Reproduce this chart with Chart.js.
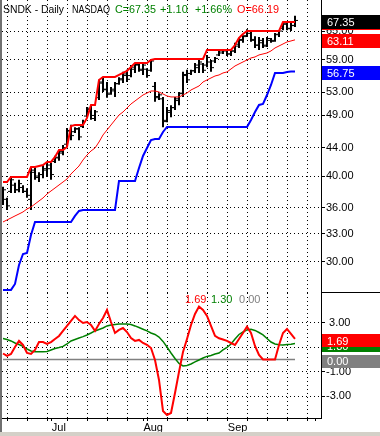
<!DOCTYPE html>
<html>
<head>
<meta charset="utf-8">
<script src="https://cdn.jsdelivr.net/npm/chart.js@4.4.0/dist/chart.umd.min.js"></script>
<style>
  html, body { margin: 0; padding: 0; background: #fff; }
  #frame { position: relative; width: 380px; height: 436px; overflow: hidden; background: #fff; }
  #priceCanvas { position: absolute; left: 0; top: 0; }
  #oscCanvas { position: absolute; left: 0; top: 293px; }
  #edge { position: absolute; left: 0; top: 0; width: 2px; height: 432px; background: #707070; }
  #foot { position: absolute; left: 0; top: 432px; width: 380px; height: 4px; background: #d4d0c8; }
</style>
</head>
<body>
<div id="frame">
  <canvas id="priceCanvas" width="380" height="293"></canvas>
  <canvas id="oscCanvas" width="380" height="139"></canvas>
  <div id="edge"></div>
  <div id="foot"></div>
</div>
<script>
// daily bars, mid June -> late September
var opens = [37.0, 37.0, 38.0, 38.8, 38.2, 38.5, 38.0, 37.0, 40.5, 39.8,
  40.2, 40.8, 41.0, 42.0, 42.5, 43.2, 44.5, 46.5, 46.4, 46.8,
  47.2, 48.9, 50.2, 48.5, 52.0, 54.6, 53.5, 52.8, 53.2, 54.5,
  55.2, 56.0, 56.0, 57.2, 58.0, 57.0, 57.2, 57.0, 54.0, 52.2,
  51.8, 48.2, 49.5, 50.3, 51.5, 52.8, 56.0, 56.4, 56.9, 57.5,
  58.2, 58.0, 58.6, 58.8, 60.0, 60.4, 60.8, 60.2, 60.8, 61.8,
  63.0, 64.0, 64.5, 63.0, 62.0, 62.5, 62.0, 63.0, 63.0, 64.2,
  65.6, 66.5, 65.5, 66.19];
var highs = [38.6, 37.2, 39.9, 39.1, 39.5, 38.8, 38.4, 41.2, 41.2, 40.5,
  41.5, 41.9, 41.8, 42.8, 43.6, 44.4, 47.0, 47.5, 47.1, 47.1,
  48.3, 50.4, 50.7, 49.9, 55.2, 55.7, 54.8, 53.9, 54.8, 55.7,
  56.7, 57.1, 58.0, 58.4, 58.4, 58.4, 57.4, 59.2, 54.8, 52.8,
  52.1, 50.4, 50.7, 52.1, 53.0, 56.7, 57.1, 57.1, 58.4, 59.0,
  58.4, 60.0, 59.0, 59.6, 61.0, 61.2, 61.0, 61.0, 62.5, 63.5,
  64.1, 65.4, 65.0, 63.9, 63.7, 63.5, 63.7, 63.5, 64.6, 65.2,
  67.0, 66.8, 66.8, 68.4];
var lows = [36.3, 35.7, 37.8, 37.8, 37.9, 37.8, 37.2, 35.7, 39.5, 39.2,
  39.7, 39.9, 39.5, 41.8, 42.1, 42.9, 44.1, 45.1, 46.2, 45.1,
  47.0, 48.7, 48.3, 48.1, 51.6, 53.0, 52.0, 52.5, 52.1, 54.3,
  54.6, 54.8, 55.7, 56.5, 56.7, 56.1, 55.6, 56.7, 51.3, 51.6,
  47.1, 47.9, 48.7, 49.9, 50.7, 52.1, 54.6, 56.1, 56.5, 56.5,
  56.5, 57.6, 56.7, 58.4, 59.8, 60.2, 59.8, 59.8, 60.4, 61.4,
  62.5, 63.7, 62.7, 61.4, 61.0, 61.4, 61.6, 62.5, 62.7, 63.7,
  65.2, 65.2, 65.0, 65.9];
var closes = [38.2, 36.2, 39.5, 38.2, 39.0, 38.0, 37.5, 40.8, 40.0, 40.2,
  41.0, 41.5, 40.2, 42.6, 43.4, 44.0, 46.6, 45.8, 46.9, 45.6,
  48.0, 50.0, 49.0, 49.6, 54.8, 53.4, 52.6, 53.5, 54.5, 55.4,
  56.3, 55.3, 57.6, 58.1, 57.2, 58.0, 56.0, 58.8, 52.0, 52.5,
  48.0, 49.8, 50.3, 51.8, 52.7, 56.2, 55.2, 56.9, 58.0, 58.6,
  57.0, 59.5, 57.5, 59.3, 60.8, 61.0, 60.2, 60.8, 62.2, 63.2,
  63.8, 65.0, 63.2, 62.0, 63.0, 61.8, 63.4, 62.8, 64.3, 65.0,
  66.6, 65.6, 66.25, 67.35];

// overlays on the price panel
var maxHigh = [39.21, 39.21, 39.88, 39.88, 39.88, 39.88, 39.88, 41.23, 41.23, 41.37,
  41.51, 41.93, 41.93, 42.64, 43.65, 43.65, 44.09, 47.30, 47.46, 47.46,
  47.46, 48.59, 50.75, 50.75, 55.18, 55.74, 55.74, 55.74, 55.74, 56.11,
  56.49, 56.86, 57.63, 58.41, 58.41, 58.41, 58.41, 59.00, 59.20, 59.20,
  59.20, 59.20, 59.20, 59.20, 59.20, 59.20, 59.20, 59.20, 59.20, 59.20,
  59.20, 61.01, 61.01, 61.01, 61.01, 61.01, 61.01, 61.01, 62.03, 63.51,
  64.36, 65.01, 65.01, 65.01, 65.01, 65.01, 65.01, 65.01, 65.01, 65.01,
  67.00, 67.00, 67.00, 67.00];
var movAvg = [34.30, 34.53, 34.76, 35.00, 35.23, 35.47, 35.82, 36.06, 36.43, 36.80,
  37.17, 37.67, 38.05, 38.43, 38.82, 39.21, 39.61, 40.28, 40.82, 41.37,
  42.21, 42.92, 43.50, 43.94, 44.83, 45.90, 46.67, 47.46, 48.26, 49.07,
  49.57, 50.24, 50.92, 51.43, 51.95, 52.47, 52.82, 53.18, 53.18, 53.00,
  52.65, 52.30, 52.13, 52.13, 52.13, 52.47, 52.82, 53.36, 53.72, 54.08,
  54.81, 55.18, 55.55, 55.92, 56.11, 56.49, 56.68, 57.25, 57.83, 58.22,
  58.61, 59.00, 59.40, 59.60, 60.00, 60.20, 60.40, 60.81, 61.42, 61.83,
  62.25, 62.67, 62.88, 63.11];
var stopLine = [27.32, 27.32, 27.32, 27.87, 29.70, 30.81, 30.92, 32.84, 34.30, 34.30,
  34.30, 34.30, 34.30, 34.30, 34.30, 34.30, 34.30, 34.30, 35.00, 35.59,
  35.71, 35.71, 35.71, 35.71, 35.71, 35.71, 35.71, 35.71, 35.71, 39.35,
  39.35, 39.35, 39.35, 39.35, 41.09, 42.78, 43.94, 45.13, 45.29, 45.29,
  46.36, 47.14, 47.14, 47.14, 47.14, 47.14, 47.14, 47.14, 47.14, 47.14,
  47.14, 47.14, 47.14, 47.14, 47.14, 47.14, 47.14, 47.14, 47.14, 47.14,
  47.14, 47.14, 48.26, 49.57, 50.75, 50.92, 52.47, 54.26, 56.49, 56.49,
  56.49, 56.68, 56.75, 56.75];

// lower panel
var oscFast = [0.49, 0.29, 0.45, 1.02, 1.52, 1.19, 0.53, 0.45, 0.78, 1.43,
  1.43, 1.27, 1.43, 1.68, 1.93, 2.34, 2.75, 3.16, 3.57, 3.23,
  2.99, 3.07, 2.83, 2.34, 2.91, 3.40, 4.06, 3.07, 2.17, 2.42,
  2.58, 2.25, 1.76, 1.52, 1.60, 1.35, 1.19, 0.94, -0.04, -1.68,
  -4.22, -4.55, -4.39, -2.75, -1.02, 0.61, 1.68, 2.83, 3.73, 4.34,
  4.06, 3.57, 2.75, 1.93, 1.74, 1.64, 1.52, 1.35, 1.19, 1.68,
  2.17, 2.69, 2.17, 1.11, 0.37, 0.00, 0.00, 0.00, 0.00, 1.19,
  2.17, 2.50, 2.09, 1.69];
var oscSlow = [1.72, 1.64, 1.52, 1.35, 1.23, 1.07, 0.86, 0.70, 0.64, 0.64,
  0.64, 0.66, 0.78, 0.90, 0.98, 1.07, 1.27, 1.52, 1.64, 1.76,
  1.87, 2.01, 2.17, 2.34, 2.46, 2.58, 2.75, 2.83, 2.87, 2.91,
  2.91, 2.91, 2.87, 2.75, 2.62, 2.48, 2.34, 2.17, 2.05, 1.84,
  1.48, 1.02, 0.53, 0.08, -0.33, -0.53, -0.49, -0.37, -0.20, -0.04,
  0.12, 0.25, 0.33, 0.45, 0.53, 0.78, 0.98, 1.27, 1.68, 2.05,
  2.25, 2.42, 2.48, 2.38, 2.21, 2.01, 1.72, 1.43, 1.27, 1.20,
  1.19, 1.23, 1.25, 1.30];
var oscZero = [0, 0, 0, 0, 0, 0, 0, 0, 0, 0,
  0, 0, 0, 0, 0, 0, 0, 0, 0, 0,
  0, 0, 0, 0, 0, 0, 0, 0, 0, 0,
  0, 0, 0, 0, 0, 0, 0, 0, 0, 0,
  0, 0, 0, 0, 0, 0, 0, 0, 0, 0,
  0, 0, 0, 0, 0, 0, 0, 0, 0, 0,
  0, 0, 0, 0, 0, 0, 0, 0, 0, 0,
  0, 0, 0, 0];

// axis ticks (x in bar numbers)
var weekTicks = [1.2, 6.2, 11.2, 16.2, 21.2, 26.2, 31.2, 36.2, 41.2, 46.2, 51.2, 56.2, 61.2, 66.2, 71.2, 76.2];
var monthTicks = [12.2, 35.1, 56.2, 78];
var monthLabels = ['Jul', 'Aug', 'Sep', ''];
var priceTicks = [30, 33, 36, 40, 44, 49, 53, 59, 65];
var oscTicks = [3, 1, -1, -3];

var FONT = "'Liberation Sans', Arial, sans-serif";
Chart.defaults.font.family = FONT;
Chart.defaults.font.size = 11;
Chart.defaults.color = '#000';

function pts(arr, shift) {
    return arr.map(function (v, i) { return {x: i + (shift || 0), y: v}; });
}
function lineSet(arr, color, width, order) {
    return {type: 'line', data: pts(arr), borderColor: color, borderWidth: width,
        pointRadius: 0, tension: 0, fill: false, order: order};
}
function tickSet(arr, shift) {
    return {type: 'line', showLine: false, data: pts(arr, shift), pointStyle: 'line',
        pointRadius: 1, pointBorderWidth: 1, pointBorderColor: '#000', order: 3};
}
function noPad(s) { s.paddingTop = 0; s.paddingBottom = 0; s.paddingLeft = 0; s.paddingRight = 0; }

function drawBox(ctx, chart, value, color, py, h) {
    var area = chart.chartArea;
    ctx.fillStyle = color;
    ctx.fillRect(area.right + 1, Math.round(py - h / 2), chart.width - area.right - 1, h);
    ctx.fillStyle = '#fff';
    ctx.fillText(value.toFixed(2), area.right + 6, Math.round(py) + 0.5);
}

var last = closes.length - 1;

var priceDecor = {
    id: 'priceDecor',
    afterDraw: function (chart) {
        var ctx = chart.ctx, y = chart.scales.y, area = chart.chartArea;
        ctx.save();
        ctx.font = '11px ' + FONT;
        ctx.textBaseline = 'middle';
        var chg = closes[last] - closes[last - 1];
        var sign = chg >= 0 ? '+' : '';
        // text, colour, left, max width
        var head = [
            ['SNDK - Daily', '#000', 3, 61],
            ['NASDAQ', '#000', 72, 38],
            ['C=' + closes[last].toFixed(2), '#008000', 115, 41],
            [sign + chg.toFixed(2), '#008000', 160, 28],
            [sign + (chg / closes[last - 1] * 100).toFixed(2) + '%', '#008000', 195, 37],
            ['O=' + opens[last].toFixed(2), '#ff0000', 237, 42]
        ];
        head.forEach(function (h) {
            ctx.fillStyle = h[1];
            ctx.fillText(h[0], h[2], 10, h[3]);
        });
        var boxes = [[maxHigh[last], '#ff0000'], [closes[last], '#000000'],
            [movAvg[last], '#ff0000'], [stopLine[last], '#0000ff']];
        boxes.forEach(function (b) {
            drawBox(ctx, chart, b[0], b[1], y.getPixelForValue(b[0]) + 1.5, 14);
        });
        ctx.strokeStyle = '#000';
        ctx.lineWidth = 1;
        ctx.beginPath();
        ctx.moveTo(area.right, chart.height - 0.5);
        ctx.lineTo(chart.width, chart.height - 0.5);
        ctx.stroke();
        ctx.restore();
    }
};

var oscDecor = {
    id: 'oscDecor',
    afterDraw: function (chart) {
        var ctx = chart.ctx, y = chart.scales.y;
        ctx.save();
        ctx.font = '11px ' + FONT;
        ctx.textBaseline = 'middle';
        var legend = [[oscFast[last], '#ff0000', 185], [oscSlow[last], '#008000', 211], [oscZero[last], '#808080', 239]];
        legend.forEach(function (l) {
            ctx.fillStyle = l[1];
            ctx.fillText(l[0].toFixed(2), l[2], 7);
        });
        var boxes = [[oscSlow[last], '#008000'], [oscFast[last], '#ff0000'], [oscZero[last], '#808080']];
        boxes.forEach(function (b) {
            drawBox(ctx, chart, b[0], b[1], y.getPixelForValue(b[0]) + 2, 13);
        });
        ctx.restore();
    }
};

var dotted = [1, 3];

new Chart(document.getElementById('priceCanvas'), {
    type: 'line',
    data: {
        datasets: [
            lineSet(maxHigh, '#ff0000', 2, 1),
            lineSet(movAvg, '#ff0000', 1, 1),
            lineSet(stopLine, '#0000ff', 2, 1),
            {type: 'bar', data: highs.map(function (h, i) { return {x: i, y: [lows[i], h]}; }),
                backgroundColor: '#000', barThickness: 2, inflateAmount: 0, order: 3},
            tickSet(opens, -0.5),
            tickSet(closes, 0.5)
        ]
    },
    options: {
        responsive: false,
        animation: false,
        events: [],
        layout: {padding: {left: 2, right: 0, top: 0, bottom: 0}, autoPadding: false},
        plugins: {legend: {display: false}, tooltip: {enabled: false}},
        scales: {
            x: {
                type: 'linear', min: -0.25, max: 79.5, offset: false,
                afterBuildTicks: function (s) { s.ticks = weekTicks.map(function (v) { return {value: v}; }); },
                afterFit: function (s) { s.height = 0; noPad(s); },
                ticks: {display: false, autoSkip: false},
                grid: {color: '#000', lineWidth: 1, drawTicks: false, offset: false},
                border: {display: false, dash: dotted}
            },
            y: {
                type: 'logarithmic', position: 'right', min: 27.04, max: 72.12,
                afterBuildTicks: function (s) { s.ticks = priceTicks.map(function (v) { return {value: v}; }); },
                afterFit: function (s) { s.width = 59; noPad(s); },
                ticks: {autoSkip: false, padding: 1, color: '#000',
                    callback: function (v) { return Number(v).toFixed(2); }},
                grid: {color: '#000', lineWidth: 1, tickLength: 4, tickColor: '#000', tickBorderDash: []},
                border: {display: true, color: '#000', width: 1, dash: dotted}
            }
        }
    },
    plugins: [priceDecor]
});

var xTicks = weekTicks.concat(monthTicks.filter(function (v) { return weekTicks.indexOf(v) < 0; }))
    .sort(function (a, b) { return a - b; });

new Chart(document.getElementById('oscCanvas'), {
    type: 'line',
    data: {
        datasets: [
            lineSet(oscFast, '#ff0000', 2, 1),
            lineSet(oscSlow, '#008000', 1.5, 2),
            lineSet(oscZero, '#808080', 1.5, 3)
        ]
    },
    options: {
        responsive: false,
        animation: false,
        events: [],
        layout: {padding: {left: 2, right: 0, top: 0, bottom: 0}, autoPadding: false},
        plugins: {legend: {display: false}, tooltip: {enabled: false}},
        scales: {
            x: {
                type: 'linear', min: -0.25, max: 79.5, offset: false,
                afterBuildTicks: function (s) { s.ticks = xTicks.map(function (v) { return {value: v}; }); },
                afterFit: function (s) { s.height = 14; noPad(s); },
                ticks: {autoSkip: false, maxRotation: 0, minRotation: 0, align: 'start', padding: 0, color: '#000',
                    callback: function (v) {
                        var k = monthTicks.indexOf(v);
                        return k >= 0 ? monthLabels[k] : '';
                    }},
                grid: {
                    color: function (c) { return weekTicks.indexOf(c.tick.value) >= 0 ? '#000' : 'rgba(0,0,0,0)'; },
                    lineWidth: 1, tickLength: 3, tickColor: '#000', tickBorderDash: [], offset: false
                },
                border: {display: true, color: '#000', width: 1, dash: dotted}
            },
            y: {
                type: 'linear', position: 'right', min: -4.8, max: 5.45,
                afterBuildTicks: function (s) { s.ticks = oscTicks.map(function (v) { return {value: v}; }); },
                afterFit: function (s) { s.width = 59; noPad(s); },
                ticks: {autoSkip: false, padding: 1, color: '#000',
                    callback: function (v) { return (v > 0 ? ' ' : '') + Number(v).toFixed(2); }},
                grid: {color: '#000', lineWidth: 1, tickLength: 4, tickColor: '#000', tickBorderDash: []},
                border: {display: true, color: '#000', width: 1, dash: dotted}
            }
        }
    },
    plugins: [oscDecor]
});
</script>
</body>
</html>
